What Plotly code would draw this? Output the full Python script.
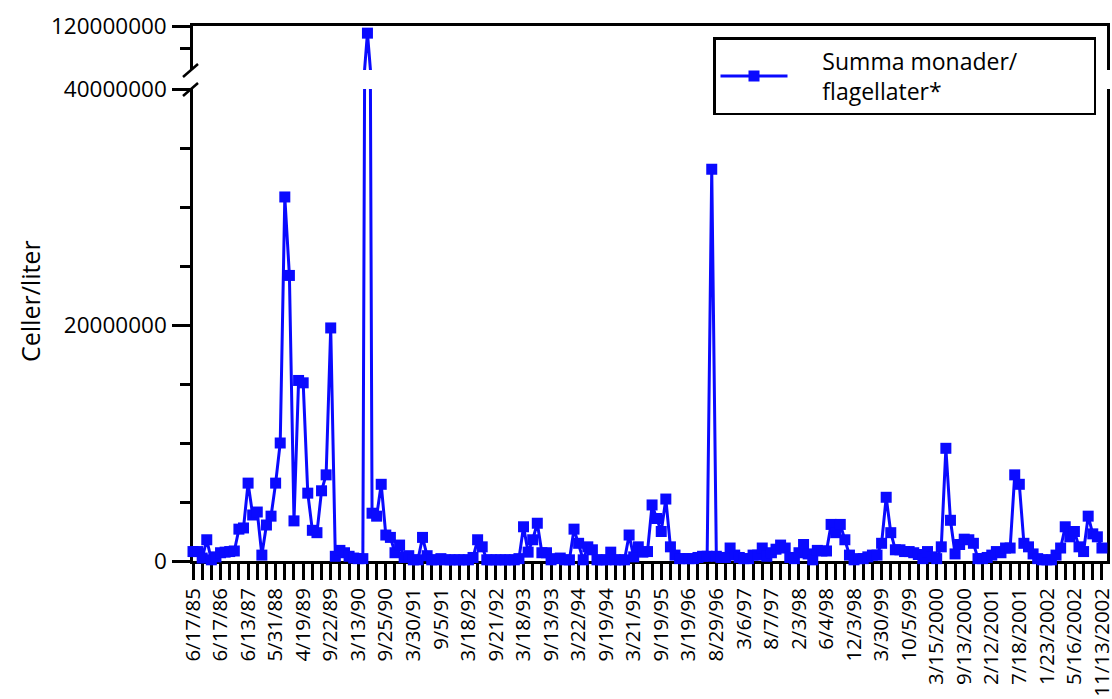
import plotly.graph_objects as go

# Totalt antal monader/flagellater (miljoner celler per liter), ett värde per provtillfälle
celler_milj = [
    0.8, 0.8, 0.25, 1.8, 0.1, 0.35, 0.7, 0.75, 0.8, 0.85,
    2.7, 2.8, 6.6, 3.9, 4.15, 0.5, 3.05, 3.8, 6.6, 10.0,
    30.85, 24.2, 3.4, 15.3, 15.1, 5.75, 2.6, 2.4, 5.95, 7.3,
    19.75, 0.4, 0.9, 0.7, 0.4, 0.25, 0.2, 0.2, 107.0, 4.05,
    3.8, 6.5, 2.2, 2.0, 0.7, 1.35, 0.3, 0.45, 0.1, 0.1,
    2.0, 0.45, 0.1, 0.1, 0.2, 0.1, 0.1, 0.1, 0.1, 0.1,
    0.1, 0.3, 1.8, 1.2, 0.1, 0.1, 0.1, 0.1, 0.1, 0.1,
    0.1, 0.2, 2.9, 0.75, 1.8, 3.2, 0.7, 0.7, 0.1, 0.2,
    0.25, 0.1, 0.1, 2.7, 1.5, 0.1, 1.2, 0.95, 0.1, 0.1,
    0.1, 0.75, 0.1, 0.1, 0.1, 2.2, 0.35, 1.2, 0.75, 0.8,
    4.75, 3.6, 2.5, 5.25, 1.2, 0.5, 0.2, 0.2, 0.2, 0.2,
    0.3, 0.4, 0.4, 33.2, 0.4, 0.3, 0.3, 1.1, 0.5, 0.3,
    0.2, 0.2, 0.5, 0.5, 1.1, 0.4, 0.7, 1.0, 1.35, 1.1,
    0.3, 0.2, 0.7, 1.4, 0.6, 0.1, 0.9, 0.85, 0.85, 3.1,
    2.4, 3.1, 1.8, 0.5, 0.1, 0.2, 0.2, 0.35, 0.5, 0.5,
    1.5, 5.4, 2.4, 0.95, 0.95, 0.8, 0.8, 0.7, 0.55, 0.2,
    0.8, 0.35, 0.2, 1.2, 9.55, 3.45, 0.6, 1.4, 1.85, 1.8,
    1.5, 0.2, 0.2, 0.3, 0.5, 0.8, 0.7, 1.1, 1.1, 7.3,
    6.5, 1.5, 1.2, 0.6, 0.2, 0.1, 0.1, 0.1, 0.5, 1.1,
    2.9, 2.05, 2.5, 1.2, 0.8, 3.8, 2.3, 2.05, 1.1,
]

# Datum som skrivs ut på x-axeln (vart sjätte provtillfälle)
datum_etiketter = [
    "6/17/85", "6/17/86", "6/13/87", "5/31/88", "4/19/89", "9/22/89",
    "3/13/90", "9/25/90", "3/30/91", "9/5/91", "3/18/92", "9/21/92",
    "3/18/93", "9/13/93", "3/22/94", "9/19/94", "3/21/95", "9/19/95",
    "3/19/96", "8/29/96", "3/6/97", "8/7/97", "2/3/98", "6/4/98",
    "12/3/98", "3/30/99", "10/5/99", "3/15/2000", "9/13/2000", "2/12/2001",
    "7/18/2001", "1/23/2002", "5/16/2002", "11/13/2002",
]
etikett_steg = 6

# förklaringstext, indragen med hårda mellanslag
INDRAG = "\u00a0" * 5
serie_namn = INDRAG + "Summa monader/<br>" + INDRAG + "flagellater*"
y_titel = "Celler/liter"

# y-axelns brytpunkt: nedre del 0-40 milj., övre del 40-120 milj.
bryt = 40_000_000
y_max = 120_000_000

prov = list(range(len(celler_milj)))
celler = [v * 1_000_000 for v in celler_milj]
# i övre delen ritas bara markörer för värden ovanför brytpunkten
celler_ovre = [c if c >= bryt else None for c in celler]
etikett_pos = [i * etikett_steg for i in range(len(datum_etiketter))]

W, H = 1112, 699
ML, MR, MT, MB = 193, 5, 26, 138
plot_w = W - ML - MR
plot_h = H - MT - MB
y_nedre_topp = (561 - 89) / plot_h
y_ovre_botten = (561 - 70) / plot_h

FONT = "Open Sans"
BLA = "#0a0aff"
AXEL = dict(color="black", family=FONT)

fig = go.Figure()

linje = dict(color=BLA, width=3)
markor = dict(symbol="square", size=11, color=BLA)

# nedre delen av det brutna diagrammet
fig.add_trace(go.Scatter(
    x=prov, y=celler, mode="lines+markers", name=serie_namn,
    line=linje, marker=markor, cliponaxis=False,
    xaxis="x", yaxis="y", showlegend=True,
))
# övre delen: linjen för hela serien ...
fig.add_trace(go.Scatter(
    x=prov, y=celler, mode="lines", line=linje, cliponaxis=True,
    xaxis="x2", yaxis="y2", showlegend=False, hoverinfo="skip",
))
# ... och markörer för de höga värdena
fig.add_trace(go.Scatter(
    x=prov, y=celler_ovre, mode="markers", marker=markor, cliponaxis=True,
    xaxis="x2", yaxis="y2", showlegend=False,
))

x_range = [0, len(celler_milj) - 1 + 1.1]

fig.update_layout(
    width=W, height=H,
    margin=dict(l=ML, r=MR, t=MT, b=MB, pad=0, autoexpand=False),
    paper_bgcolor="white", plot_bgcolor="white",
    font=dict(family=FONT, size=22, color="black"),
    xaxis=dict(
        domain=[0, 1], range=x_range, anchor="y", automargin=False,
        showline=True, linecolor="black", linewidth=2.5, mirror=False,
        showgrid=False, zeroline=False,
        tickmode="array", tickvals=etikett_pos, ticktext=datum_etiketter,
        ticks="outside", ticklen=16, tickwidth=2.5, tickcolor="black",
        tickangle=-90, tickfont=dict(size=20.5, **AXEL),
        ticklabelstandoff=0, ticklabeloverflow="allow",
        minor=dict(dtick=2, tick0=0, ticks="outside", ticklen=16,
                   tickwidth=2.5, tickcolor="black", showgrid=False),
        layer="below traces",
    ),
    xaxis2=dict(
        domain=[0, 1], range=x_range, anchor="y2", side="top", automargin=False,
        showline=True, linecolor="black", linewidth=2.5, mirror=False,
        showgrid=False, zeroline=False, showticklabels=False, ticks="",
        matches="x", layer="below traces",
    ),
    yaxis=dict(
        domain=[0, y_nedre_topp], range=[0, bryt], anchor="x", automargin=False,
        showline=True, linecolor="black", linewidth=2.5, mirror=True,
        showgrid=False, zeroline=False,
        tickmode="array", tickvals=[0, 20_000_000, 40_000_000],
        ticktext=["0", "20000000", "40000000"],
        ticks="outside", ticklen=18, tickwidth=2.5, tickcolor="black",
        tickfont=dict(size=22.5, **AXEL), ticklabelstandoff=1,
        minor=dict(tickmode="array",
                   tickvals=[5_000_000, 10_000_000, 15_000_000, 25_000_000,
                             30_000_000, 35_000_000],
                   ticks="outside", ticklen=10, tickwidth=2.5,
                   tickcolor="black", showgrid=False),
        layer="below traces",
    ),
    yaxis2=dict(
        domain=[y_ovre_botten, 1], range=[bryt, y_max], anchor="x2",
        automargin=False,
        showline=True, linecolor="black", linewidth=2.5, mirror=True,
        showgrid=False, zeroline=False,
        tickmode="array", tickvals=[y_max], ticktext=["120000000"],
        ticks="outside", ticklen=18, tickwidth=2.5, tickcolor="black",
        tickfont=dict(size=22.5, **AXEL), ticklabelstandoff=1,
        minor=dict(tickmode="array", tickvals=[80_000_000],
                   ticks="outside", ticklen=10, tickwidth=2.5,
                   tickcolor="black", showgrid=False),
        layer="below traces",
    ),
    legend=dict(
        x=(1096 - ML) / plot_w, y=(561 - 37) / plot_h,
        xanchor="right", yanchor="top",
        bgcolor="white", bordercolor="black", borderwidth=2.5,
        font=dict(size=23, family=FONT, color="black"),
        orientation="h", entrywidth=296, entrywidthmode="pixels",
        itemwidth=67, valign="middle",
    ),
    showlegend=True,
)

# axeltitel
fig.add_annotation(
    text=y_titel, textangle=-90, showarrow=False,
    xref="paper", yref="paper",
    x=(30 - ML) / plot_w, y=(561 - 301) / plot_h,
    xanchor="center", yanchor="middle",
    font=dict(size=25, family=FONT, color="black"),
)

# brytmarkeringar på vänstra axeln
for yb in (y_ovre_botten, y_nedre_topp):
    fig.add_shape(
        type="line", xref="paper", yref="paper",
        x0=-10 / plot_w, x1=5 / plot_w,
        y0=yb - 7 / plot_h, y1=yb + 6 / plot_h,
        line=dict(color="black", width=2.5),
    )

fig.write_html("out.html")
